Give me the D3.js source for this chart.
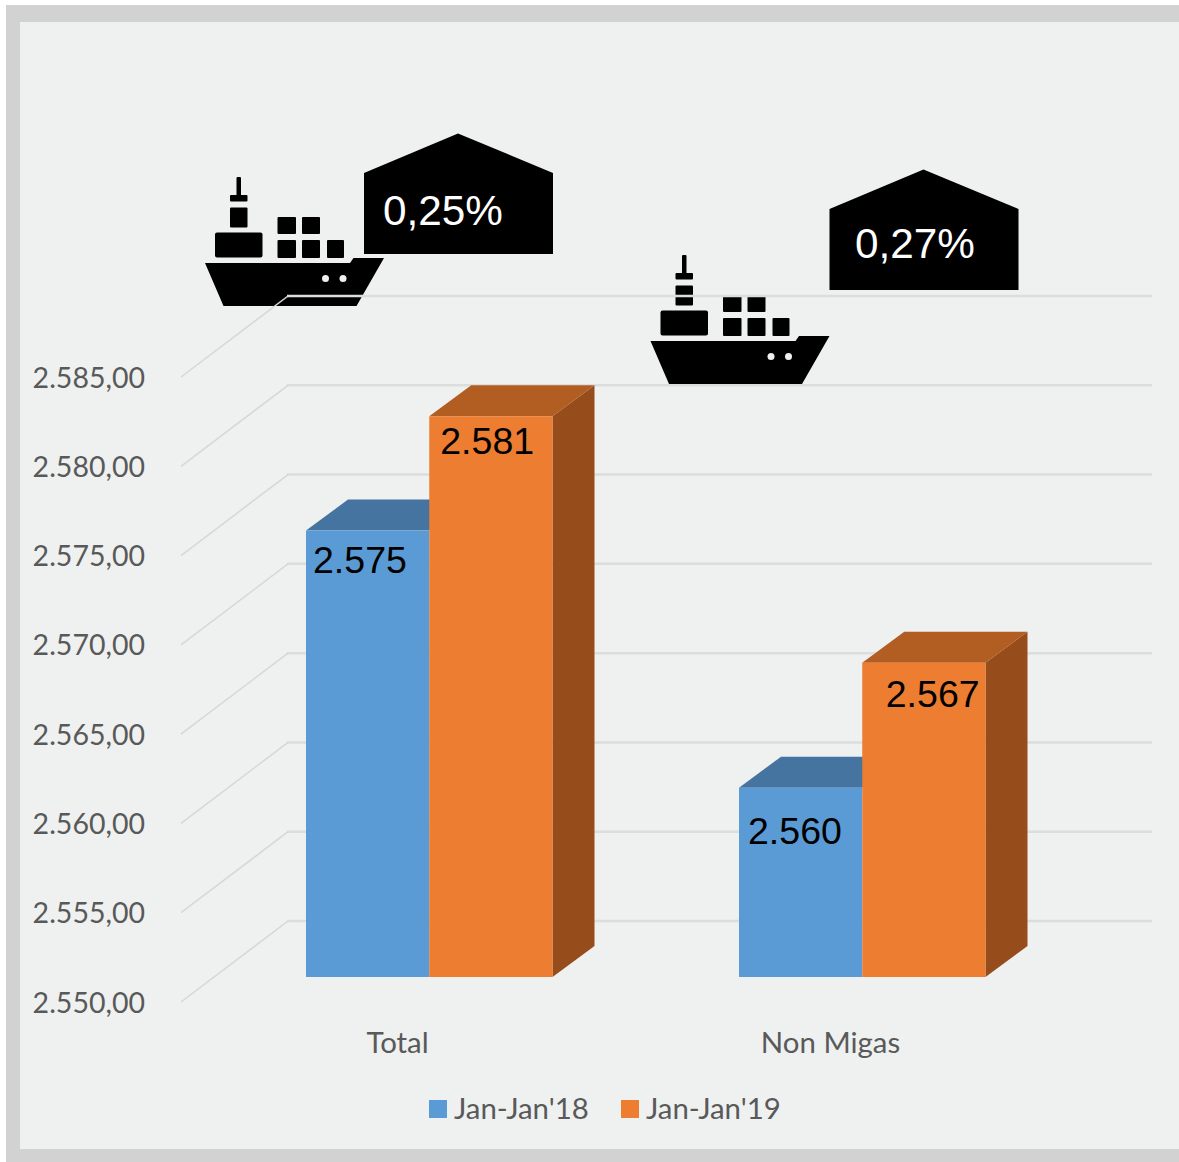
<!DOCTYPE html>
<html lang="en">
<head>
	<meta charset="utf-8">
	<script src="https://cdnjs.cloudflare.com/ajax/libs/d3/7.8.5/d3.min.js"></script>
	<style>
		html, body { margin: 0; padding: 0; background: #fff; }
		svg { display: block; }
		.tick text, .legend text { font-family: Lato, "Open Sans", sans-serif; font-size: 28.5px; fill: #595959; }
		.cat .tick text, .legend text { font-size: 29.4px; }
		.value { font-family: "Liberation Sans", Arial, sans-serif; font-size: 37.5px; fill: #000; }
		.pct { font-family: "Liberation Sans", Arial, sans-serif; font-size: 42.3px; fill: #fff; }
	</style>
</head>
<body>
<svg width="1179" height="1162"></svg>

<script>
	const categories = ["Total", "Non Migas"];
	const seriesNames = ["Jan-Jan'18", "Jan-Jan'19"];
	const jan18 = [2575.0, 2560.6];
	const jan19 = [2581.4, 2567.6];
	const jan18Labels = ["2.575", "2.560"];
	const jan19Labels = ["2.581", "2.567"];
	const yTicks = [2550, 2555, 2560, 2565, 2570, 2575, 2580, 2585];
	const yTickLabels = ["2.550,00", "2.555,00", "2.560,00", "2.565,00", "2.570,00", "2.575,00", "2.580,00", "2.585,00"];
	const growth = ["0,25%", "0,27%"];

	const colors = {
		"Jan-Jan'18": { front: "#5b9bd5", top: "#44749f" },
		"Jan-Jan'19": { front: "#ed7d31", top: "#b25d22", side: "#964d1b" }
	};

	const rows = [jan18, jan19].map((vals, s) => vals.map((v, c) => ({
		series: seriesNames[s],
		cat: categories[c],
		value: v,
		label: [jan18Labels, jan19Labels][s][c]
	})));

	// hand placed in the original, relative to the bar's top left corner
	const labelOffsets = [[[7, 42], [9, 56]], [[11, 38], [23.5, 44]]];

	const svg = d3.select("svg");

	// frame
	svg.append("rect").attr("x", 6).attr("y", 5).attr("width", 1173).attr("height", 1157).attr("fill", "#d2d2d2");
	svg.append("rect").attr("x", 20).attr("y", 22).attr("width", 1159).attr("height", 1127).attr("fill", "#eff0f0");

	const x0 = d3.scaleBand().domain(categories).range([213, 1079]);
	const x1 = d3.scaleBand().domain(seriesNames).range([93, 339.5]);
	const y = d3.scaleLinear().domain([2550, 2585]).range([977, 352]);

	const barDx = 42, barDy = -31;   // depth of the bars
	const wallDy = -56;              // back wall against the front plane

	// ships sit under the gridlines
	const ships = svg.append("g");
	[[205, 177], [650.5, 255]].forEach(([sx, sy]) => {
		const g = ships.append("g").attr("transform", `translate(${sx},${sy})`);
		const boxes = [
			[31.5, 0, 4.5, 19, 1], [25, 18, 17.5, 6.5, 1], [25, 30.5, 17.5, 20, 1], [10, 55.5, 47.5, 25, 2],
			[72.5, 40, 18.5, 17, 1], [97, 40, 18, 17, 1], [72.5, 63, 18.5, 18, 1], [97, 63, 18, 18, 1], [122, 63, 17, 18, 1]
		];
		g.selectAll("rect").data(boxes).enter().append("rect")
			.attr("x", d => d[0]).attr("y", d => d[1]).attr("width", d => d[2]).attr("height", d => d[3]).attr("rx", d => d[4]);
		g.append("path").attr("d", "M0,86 L145,86 L148.5,81 L179,81 L151.5,129 L18.5,129 Z");
		g.selectAll("circle").data([120.5, 138]).enter().append("circle")
			.attr("cx", d => d).attr("cy", 101.5).attr("r", 3.5).attr("fill", "#eff0f0");
	});

	// gridlines
	const grid = svg.append("g");
	grid.selectAll(".back").data(yTicks).enter().append("line")
		.attr("x1", 287).attr("x2", 1152)
		.attr("y1", d => y(d) + wallDy).attr("y2", d => y(d) + wallDy)
		.attr("stroke", "#dcdddd").attr("stroke-width", 2.5);
	grid.selectAll(".side").data(yTicks).enter().append("line")
		.attr("x1", 181).attr("x2", 288)
		.attr("y1", d => y(d) + 25).attr("y2", d => y(d) + wallDy)
		.attr("stroke", "#d6d7d7").attr("stroke-width", 1.5);

	// bars, blue first so the orange front covers the blue top
	const bars = svg.append("g");
	rows.forEach(row => {
		row.forEach(d => {
			const left = x0(d.cat) + x1(d.series);
			const right = left + x1.bandwidth();
			const top = y(d.value);
			const base = y(2550);
			const c = colors[d.series];
			if (c.side) {
				bars.append("path")
					.attr("d", `M${right},${top} L${right + barDx},${top + barDy} L${right + barDx},${base + barDy} L${right},${base} Z`)
					.attr("fill", c.side);
			}
			bars.append("path")
				.attr("d", `M${left},${top} L${left + barDx},${top + barDy} L${right + barDx},${top + barDy} L${right},${top} Z`)
				.attr("fill", c.top);
			bars.append("rect")
				.attr("x", left).attr("y", top).attr("width", x1.bandwidth()).attr("height", base - top)
				.attr("fill", c.front);
		});
	});

	rows.forEach((row, s) => {
		svg.append("g").selectAll("text").data(row).enter().append("text")
			.attr("class", "value")
			.attr("x", (d, i) => x0(d.cat) + x1(d.series) + labelOffsets[s][i][0])
			.attr("y", (d, i) => y(d.value) + labelOffsets[s][i][1])
			.text(d => d.label);
	});

	// axes
	const yAxis = d3.axisLeft(y).tickValues(yTicks).tickSize(0).tickPadding(0)
		.tickFormat(d => yTickLabels[yTicks.indexOf(d)]);
	const yG = svg.append("g").attr("transform", "translate(145,26)").call(yAxis);
	yG.select(".domain").remove();

	const xAxis = d3.axisBottom(x0).tickSize(0).tickPadding(0);
	const xG = svg.append("g").attr("class", "cat").attr("transform", "translate(-32,1032)").call(xAxis);
	xG.select(".domain").remove();

	// legend
	const legend = svg.append("g").attr("class", "legend");
	seriesNames.forEach((name, i) => {
		const lx = 429 + i * 192;
		legend.append("rect").attr("x", lx).attr("y", 1100).attr("width", 18).attr("height", 18).attr("fill", colors[name].front);
		legend.append("text").attr("x", lx + 25).attr("y", 1119).text(name);
	});

	// growth callouts
	const callouts = [
		{ x: 364, y: 133.5, text: growth[0], tx: 383, ty: 225 },
		{ x: 829.5, y: 169.5, text: growth[1], tx: 855, ty: 257.5 }
	];
	callouts.forEach(c => {
		const w = 189, peak = c.x + 94, shoulder = c.y + 39.5, bottom = c.y + 120.5;
		svg.append("path")
			.attr("d", `M${c.x},${shoulder} L${peak},${c.y} L${c.x + w},${shoulder} L${c.x + w},${bottom} L${c.x},${bottom} Z`)
			.attr("fill", "#000");
		svg.append("text").attr("class", "pct").attr("x", c.tx).attr("y", c.ty).text(c.text);
	});
</script>
</body>
</html>
